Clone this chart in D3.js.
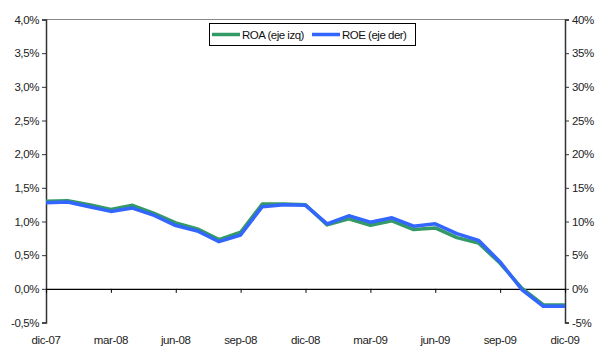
<!DOCTYPE html>
<html><head><meta charset="utf-8">
<script src="https://cdn.jsdelivr.net/npm/d3@7"></script>
<style>body{margin:0;background:#fff}svg{display:block;font-family:"Liberation Sans",Arial,sans-serif}</style>
</head><body><svg id="c" width="598" height="349"></svg>
<script>
const months = ["dic-07","ene-08","feb-08","mar-08","abr-08","may-08","jun-08","jul-08","ago-08","sep-08","oct-08","nov-08","dic-08","ene-09","feb-09","mar-09","abr-09","may-09","jun-09","jul-09","ago-09","sep-09","oct-09","nov-09","dic-09"];
const roa = [1.30,1.31,1.25,1.18,1.24,1.12,0.98,0.89,0.73,0.84,1.26,1.26,1.25,0.95,1.04,0.945,1.01,0.88,0.905,0.76,0.68,0.38,0.01,-0.24,-0.24];
const roe = [12.8,12.9,12.2,11.5,12.0,10.9,9.4,8.6,7.0,8.0,12.2,12.5,12.4,0.965*10,10.85,9.9,10.55,9.3,9.65,8.2,7.2,4.0,-0.1,-2.6,-2.6];
const leftTicks = [-0.5,0,0.5,1,1.5,2,2.5,3,3.5,4];
const rightTicks = [-5,0,5,10,15,20,25,30,35,40];
const labelMonths = ["dic-07","mar-08","jun-08","sep-08","dic-08","mar-09","jun-09","sep-09","dic-09"];

const svg = d3.select("#c");
const L = 46, R = 565, T = 19.5, B = 322.5;
const x = d3.scalePoint().domain(months).range([L, R]);
const yL = d3.scaleLinear().domain([-0.5, 4]).range([B, T]);
const yR = d3.scaleLinear().domain([-5, 40]).range([B, T]);
const fmtL = d => d3.format(".1f")(d).replace(".", ",").replace("−","-") + "%";
const fmtR = d => d + "%";

// top border
svg.append("line").attr("x1", L).attr("x2", R).attr("y1", T).attr("y2", T).attr("stroke", "#888").attr("stroke-width", 1);

// left axis
const gl = svg.append("g").attr("transform", `translate(${L},0)`)
  .call(d3.axisLeft(yL).tickValues(leftTicks).tickFormat(fmtL).tickSize(4).tickPadding(3));
gl.select(".domain").attr("stroke", "#333").attr("stroke-width", 1.5);
gl.selectAll(".tick line").attr("stroke", "#333");
gl.selectAll("text").attr("font-size", 11.5).attr("fill", "#222").style("letter-spacing", "-0.4px");

// right axis
const gr = svg.append("g").attr("transform", `translate(${R},0)`)
  .call(d3.axisRight(yR).tickValues(rightTicks).tickFormat(fmtR).tickSize(4).tickPadding(3));
gr.select(".domain").attr("stroke", "#333").attr("stroke-width", 1.5);
gr.selectAll(".tick line").attr("stroke", "#333");
gr.selectAll("text").attr("font-size", 11.5).attr("fill", "#222").style("letter-spacing", "-0.4px");

// zero line with category ticks
const gx = svg.append("g").attr("transform", `translate(0,${yL(0)})`)
  .call(d3.axisBottom(x).tickValues(labelMonths).tickFormat("").tickSize(4).tickSizeOuter(0));
gx.select(".domain").attr("stroke", "#000").attr("stroke-width", 1.2);
gx.selectAll(".tick line").attr("stroke", "#000");

// x labels
svg.append("g").selectAll("text").data(labelMonths).join("text")
  .attr("x", d => x(d)).attr("y", 344).attr("text-anchor", "middle")
  .attr("font-size", 11.5).attr("fill", "#222").style("letter-spacing", "-0.4px").text(d => d);

// lines
const lineL = d3.line().x((d, i) => x(months[i])).y(d => yL(d));
const lineR = d3.line().x((d, i) => x(months[i])).y(d => yR(d));
svg.append("path").datum(roa).attr("d", lineL).attr("fill", "none")
  .attr("stroke", "#339966").attr("stroke-width", 3.5).attr("stroke-linejoin", "round");
svg.append("path").datum(roe).attr("d", lineR).attr("fill", "none")
  .attr("stroke", "#3366FF").attr("stroke-width", 3.5).attr("stroke-linejoin", "round");

// legend
const lg = svg.append("g");
lg.append("rect").attr("x", 209.5).attr("y", 23.5).attr("width", 206).attr("height", 22)
  .attr("fill", "#fff").attr("stroke", "#000").attr("stroke-width", 1);
const items = [{name: "ROA (eje izq)", color: "#339966", x0: 212}, {name: "ROE (eje der)", color: "#3366FF", x0: 312}];
items.forEach(it => {
  lg.append("line").attr("x1", it.x0).attr("x2", it.x0 + 28).attr("y1", 34.5).attr("y2", 34.5)
    .attr("stroke", it.color).attr("stroke-width", 3.5);
  lg.append("text").attr("x", it.x0 + 30).attr("y", 38.5).attr("font-size", 11.5)
    .attr("fill", "#111").style("letter-spacing", "-0.5px").text(it.name);
});
</script></body></html>
